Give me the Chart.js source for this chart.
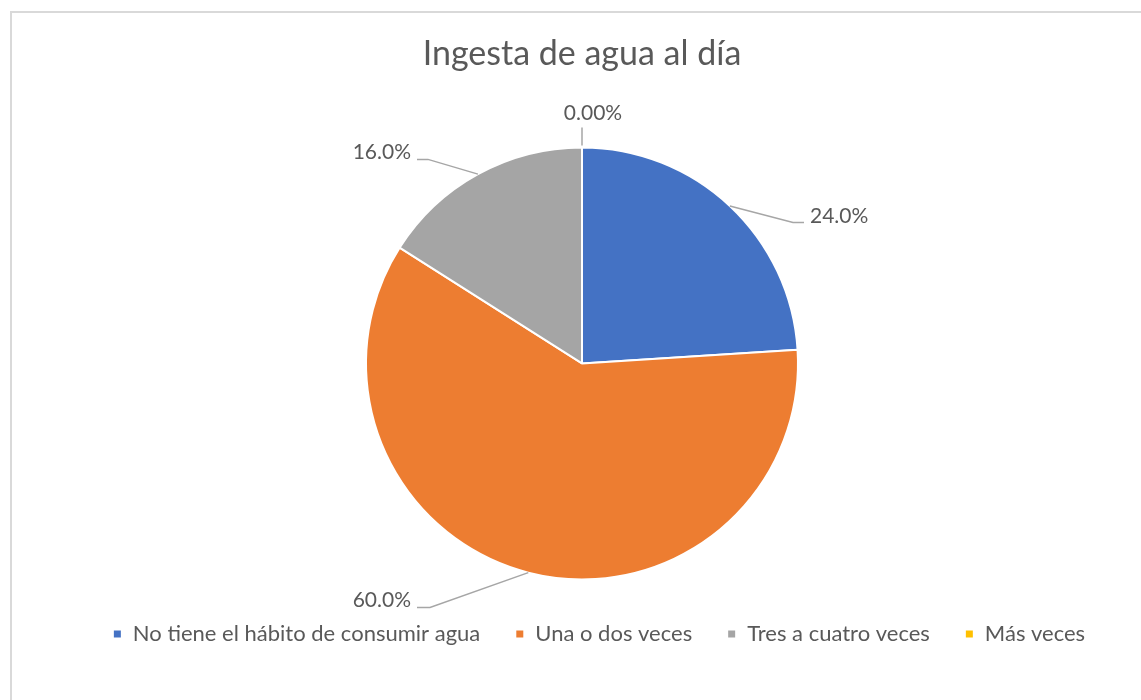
<!DOCTYPE html>
<html>
<head>
<meta charset="utf-8">
<script src="https://cdn.jsdelivr.net/npm/chart.js@4.4.1/dist/chart.umd.min.js"></script>
<style>
  html, body { margin: 0; padding: 0; background: #fff; overflow: hidden; }
  #frame { position: absolute; left: 10px; top: 11px; width: 1300px; height: 900px;
           border: 2px solid #d9d9d9; box-sizing: border-box; }
  #wrap { position: absolute; left: 0; top: 0; width: 1141px; height: 700px; }
</style>
</head>
<body>
<div id="frame"></div>
<div id="wrap"><canvas id="pie" width="1141" height="700"></canvas></div>
<script>
// Datos
const CATEGORIES = [
  "No tiene el hábito de consumir agua",
  "Una o dos veces",
  "Tres a cuatro veces",
  "Más veces"
];
const VALUES = [24.0, 60.0, 16.0, 0.0];        // porcentaje
const VALUE_TEXT = ["24.0%", "60.0%", "16.0%", "0.00%"];
const COLORS = ["#4472C4", "#ED7D31", "#A5A5A5", "#FFC000"];

const TEXT_COLOR = "#595959";
const FONT = "Lato, 'Open Sans', sans-serif";

// Posición de etiquetas y líneas guía (relativa al centro de la torta)
const LABEL_LAYOUT = [
  { elbow: [211, -141], end: [222, -141], text: [228, -140], align: "left" },
  { elbow: [-152, 244], end: [-165, 244], text: [-171, 244], align: "right" },
  { elbow: [-154, -204], end: [-165, -204], text: [-171, -204], align: "right" },
  { elbow: null, end: [0, -236], text: [11, -243], align: "center" }
];

const leaderLabels = {
  id: "leaderLabels",
  afterDatasetsDraw(chart) {
    const { ctx } = chart;
    const meta = chart.getDatasetMeta(0);
    ctx.save();
    ctx.font = "21px " + FONT;
    ctx.fillStyle = TEXT_COLOR;
    ctx.strokeStyle = "#a6a6a6";
    ctx.lineWidth = 1.5;
    meta.data.forEach((arc, i) => {
      const { x, y, startAngle, endAngle, outerRadius } =
        arc.getProps(["x", "y", "startAngle", "endAngle", "outerRadius"], true);
      const mid = (startAngle + endAngle) / 2;
      const L = LABEL_LAYOUT[i];
      const px = x + outerRadius * Math.cos(mid);
      const py = y + outerRadius * Math.sin(mid) - (L.elbow ? 0 : 2);
      ctx.beginPath();
      ctx.moveTo(px, py);
      if (L.elbow) ctx.lineTo(x + L.elbow[0], y + L.elbow[1]);
      ctx.lineTo(x + L.end[0], y + L.end[1]);
      ctx.stroke();
      ctx.textAlign = L.align;
      ctx.textBaseline = "alphabetic";
      ctx.fillText(VALUE_TEXT[i], x + L.text[0], y + L.text[1]);
    });
    ctx.restore();
  }
};

// la leyenda de Excel está algo corrida a la derecha
const legendShift = {
  id: "legendShift",
  afterLayout(chart) {
    chart.legend.left += 17;
    chart.legend.right += 17;
  }
};

new Chart(document.getElementById("pie"), {
  type: "pie",
  data: {
    labels: CATEGORIES,
    datasets: [{
      data: VALUES,
      backgroundColor: COLORS,
      borderColor: "#ffffff",
      borderWidth: 2,
      radius: 216,
      clip: false
    }]
  },
  options: {
    responsive: false,
    animation: false,
    devicePixelRatio: 1,
    layout: { padding: { left: 23, right: 0, top: 0, bottom: 45 } },
    plugins: {
      title: {
        display: true,
        text: "Ingesta de agua al día",
        color: TEXT_COLOR,
        font: { family: FONT, size: 34, weight: "normal" },
        padding: { top: 34, bottom: 64 }
      },
      legend: {
        position: "bottom",
        labels: {
          color: TEXT_COLOR,
          font: { family: FONT, size: 22 },
          boxWidth: 9,
          boxHeight: 9,
          padding: 35
        }
      },
      tooltip: { enabled: false }
    }
  },
  plugins: [leaderLabels, legendShift]
});
</script>
</body>
</html>
